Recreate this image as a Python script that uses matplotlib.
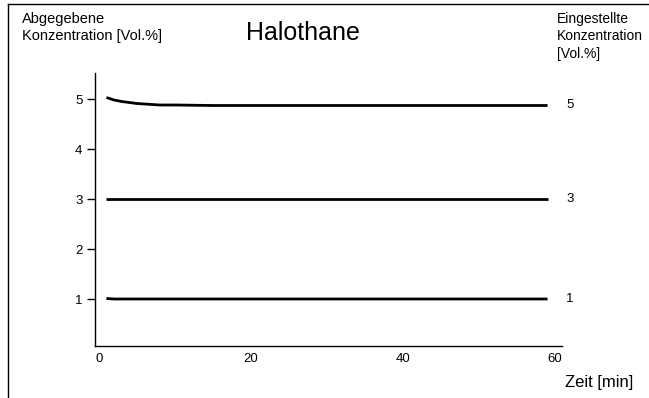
import matplotlib
matplotlib.use("Agg")
import matplotlib.pyplot as plt
from matplotlib.lines import Line2D

plt.rcParams['font.family'] = ['Liberation Sans', 'DejaVu Sans']

# Delivered concentration over time for three dial settings
time_min = [1, 2, 3, 4, 5, 6, 7, 8, 10, 15, 20, 30, 40, 50, 59]
delivered_5 = [5.03, 4.98, 4.95, 4.93, 4.91, 4.90, 4.89, 4.88, 4.88, 4.87, 4.87, 4.87, 4.87, 4.87, 4.87]
delivered_3 = [3.0, 3.0, 3.0, 3.0, 3.0, 3.0, 3.0, 3.0, 3.0, 3.0, 3.0, 3.0, 3.0, 3.0, 3.0]
delivered_1 = [1.01, 1.0, 1.0, 1.0, 1.0, 1.0, 1.0, 1.0, 1.0, 1.0, 1.0, 1.0, 1.0, 1.0, 1.0]
settings = ["5", "3", "1"]
x_ticks = [0, 20, 40, 60]
y_ticks = [1, 2, 3, 4, 5]

W, H = 649, 398
fig = plt.figure(figsize=(W / 100, H / 100), dpi=100)
ax = fig.add_axes([95 / W, 1 - 346 / H, (562 - 95) / W, (346 - 73) / H])

for series in (delivered_5, delivered_3, delivered_1):
    ax.plot(time_min, series, color="black", lw=2.0, solid_capstyle="butt")

ax.set_xlim(-0.5, 60.9)
ax.set_ylim(0.06, 5.52)
ax.set_xticks(x_ticks)
ax.set_yticks(y_ticks)
ax.tick_params(axis="x", length=0, pad=5, labelsize=9.5)
ax.tick_params(axis="y", length=6, width=1, pad=3, labelsize=9.5, direction="out")
for side in ("top", "right"):
    ax.spines[side].set_visible(False)
for side in ("left", "bottom"):
    ax.spines[side].set_linewidth(1.0)

# Setting labels at the end of each curve
for series, label in zip((delivered_5, delivered_3, delivered_1), settings):
    ax.annotate(label, xy=(time_min[-1], series[-1]), xytext=(16, 0),
                textcoords="offset points", ha="center", va="center", fontsize=9.5)

fig.text(22 / W, 1 - 12 / H, "Abgegebene\nKonzentration [Vol.%]", ha="left", va="top",
         fontsize=10.5, linespacing=1.25)
fig.text(303 / W, 1 - 33 / H, "Halothane", ha="center", va="center", fontsize=18)
fig.text(557 / W, 1 - 12 / H, "Eingestellte\nKonzentration\n[Vol.%]", ha="left", va="top",
         fontsize=10, linespacing=1.3)
fig.text(565 / W, 1 - 383 / H, "Zeit [min]", ha="left", va="center", fontsize=12)

# Page frame
fig.add_artist(Line2D([8 / W, 1], [1 - 4 / H, 1 - 4 / H], color="black", lw=1.0))
fig.add_artist(Line2D([8 / W, 8 / W], [0, 1 - 4 / H], color="black", lw=1.0))

fig.savefig("out.png", dpi=100)
